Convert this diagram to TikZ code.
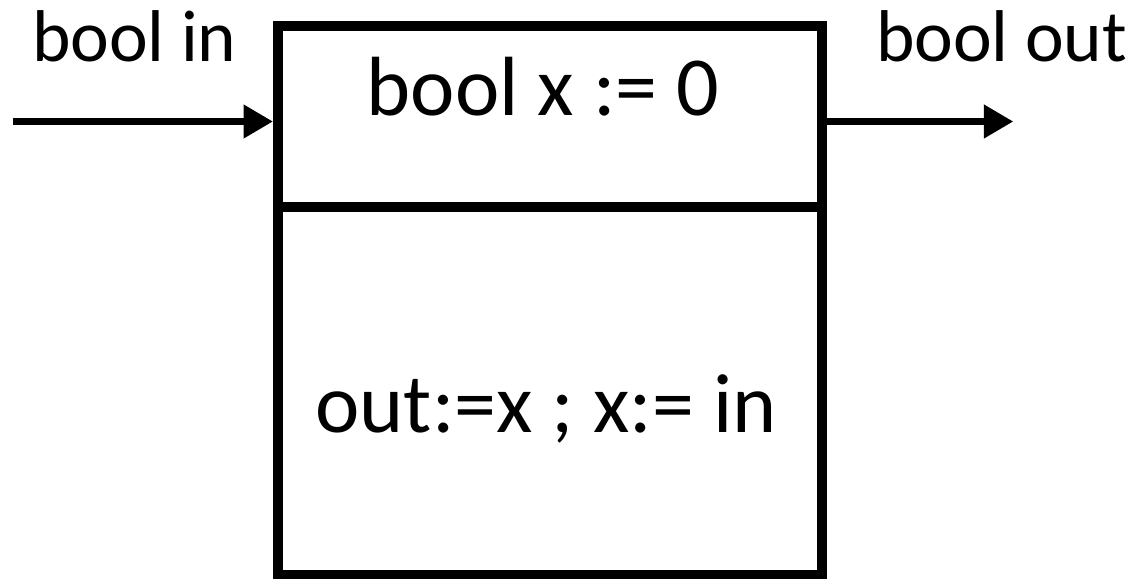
\documentclass[tikz,border=0pt]{standalone}
\usepackage{fontspec}
\setmainfont{Carlito}
\usetikzlibrary{arrows.meta}
\begin{document}
\begin{tikzpicture}[x=0.75pt,y=-0.75pt,
  lab/.style={inner sep=0pt, outer sep=0pt, font=\fontsize{55}{60}\selectfont},
  boxtext/.style={inner sep=0pt, outer sep=0pt, font=\fontsize{63}{70}\selectfont},
  arr/.style={line width=5.25pt, -{Triangle[length=22pt,width=24pt]}},
  blockbox/.style={draw, line width=7.5pt, minimum width=408pt, minimum height=412pt, inner sep=0pt}]
\useasboundingbox (0,0) rectangle (1137,578);
\node[blockbox] (box) at (550,300.35) {};
\coordinate (div) at (550,207);
\draw[line width=7.5pt] (box.west |- div) -- (box.east |- div);
\coordinate (inStart) at (12.7,121.5);
\coordinate (outEnd) at (1013.3,121.5);
\draw[arr] (inStart) -- (box.west |- inStart);
\draw[arr] (box.east |- inStart) -- (outEnd);
\node[lab, anchor=base west] (lin) at (32,61) {bool in};
\node[lab, anchor=base west] (lout) at (876,61) {bool out};
\node[boxtext, anchor=base] (init) at (543,115) {bool x := 0};
\node[boxtext, anchor=base] (body) at (546,432) {out:=x ; x:= in};
\end{tikzpicture}
\end{document}
